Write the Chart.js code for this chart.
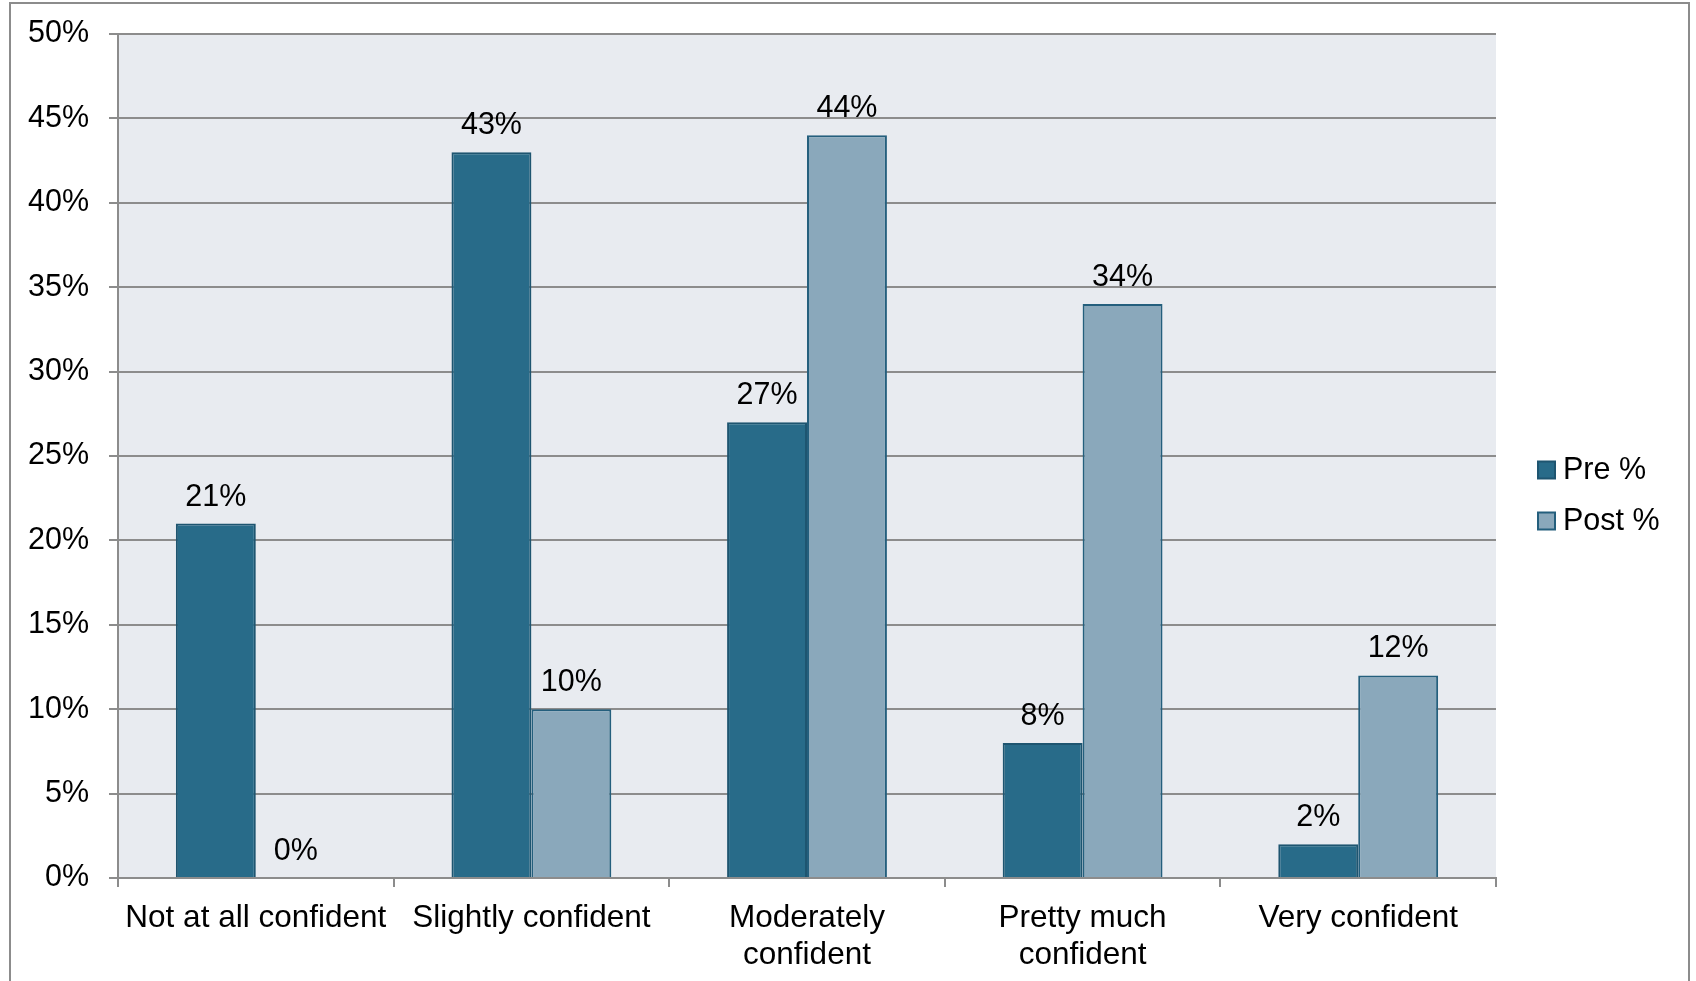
<!DOCTYPE html>
<html>
<head>
<meta charset="utf-8">
<script src="https://cdn.jsdelivr.net/npm/chart.js@4.4.1/dist/chart.umd.min.js"></script>
<style>
  html,body{margin:0;padding:0;background:#fff;}
  #wrap{width:1696px;height:981px;}
</style>
</head>
<body>
<div id="wrap"><canvas id="chart" width="1696" height="981"></canvas></div>
<script>
// confidence survey, pre vs post (percent of respondents)
const categories = [
  'Not at all confident',
  'Slightly confident',
  ['Moderately', 'confident'],
  ['Pretty much', 'confident'],
  'Very confident'
];
const preValues  = [21, 43, 27, 8, 2];
const postValues = [0, 10, 44, 34, 12];
const yTicks = { min: 0, max: 50, step: 5 };

const FONT = '"Liberation Sans", Arial, sans-serif';
const GRID = '#8c8c8c';

// plot background + outer frame
const framePlugin = {
  id: 'frame',
  beforeDraw(chart) {
    const { ctx, chartArea: a } = chart;
    ctx.save();
    ctx.fillStyle = '#e8ebf0';
    ctx.fillRect(a.left, a.top, a.right - a.left, a.bottom - a.top);
    ctx.strokeStyle = GRID;
    ctx.lineWidth = 2;
    ctx.beginPath();
    ctx.moveTo(10, chart.height + 5);
    ctx.lineTo(10, 3);
    ctx.lineTo(1689, 3);
    ctx.lineTo(1689, chart.height + 5);
    ctx.stroke();
    ctx.restore();
  }
};

// value labels above each bar
const valueLabels = {
  id: 'valueLabels',
  afterDatasetsDraw(chart) {
    const ctx = chart.ctx;
    ctx.save();
    ctx.font = '30.5px ' + FONT;
    ctx.fillStyle = '#000';
    ctx.textAlign = 'center';
    ctx.textBaseline = 'alphabetic';
    chart.data.datasets.forEach((ds, di) => {
      chart.getDatasetMeta(di).data.forEach((bar, i) => {
        ctx.fillText(ds.data[i] + '%', bar.x, bar.y - 18);
      });
    });
    ctx.restore();
  }
};

// legend on the right
const sideLegend = {
  id: 'sideLegend',
  afterDraw(chart) {
    const ctx = chart.ctx, a = chart.chartArea;
    const x = a.right + 42;
    const cy = chart.height / 2 + 5;
    const gap = 51;
    ctx.save();
    ctx.font = '30.5px ' + FONT;
    ctx.textBaseline = 'middle';
    chart.data.datasets.forEach((ds, i) => {
      const y = cy + (i - (chart.data.datasets.length - 1) / 2) * gap;
      ctx.fillStyle = ds.backgroundColor;
      ctx.fillRect(x, y - 8.5, 17, 17);
      ctx.strokeStyle = ds.borderColor;
      ctx.lineWidth = 2;
      ctx.strokeRect(x, y - 8.5, 17, 17);
      ctx.fillStyle = '#000';
      ctx.fillText(ds.label, x + 25, y + 1);
    });
    ctx.restore();
  }
};

new Chart(document.getElementById('chart'), {
  type: 'bar',
  plugins: [framePlugin, valueLabels, sideLegend],
  data: {
    labels: categories,
    datasets: [
      { label: 'Pre %',  data: preValues,  backgroundColor: '#286b89', borderColor: '#1e5570', borderWidth: 2 },
      { label: 'Post %', data: postValues, backgroundColor: '#8aa8bb', borderColor: '#245f7d', borderWidth: 2 }
    ]
  },
  options: {
    responsive: false,
    animation: false,
    categoryPercentage: 0.58,
    barPercentage: 1.0,
    layout: { padding: { left: 10, top: 34, right: 200, bottom: 0 } },
    plugins: { legend: { display: false }, tooltip: { enabled: false } },
    scales: {
      x: {
        offset: true,
        grid: { offset: true, drawOnChartArea: false, color: GRID, lineWidth: 2, tickLength: 9 },
        border: { color: GRID, width: 2 },
        ticks: { color: '#000', font: { family: FONT, size: 31.5, lineHeight: 1.17 }, padding: 13, maxRotation: 0, autoSkip: false },
        afterFit(scale) { scale.height = 103; scale.paddingLeft = 0; scale.paddingRight = 0; }
      },
      y: {
        min: yTicks.min,
        max: yTicks.max,
        grid: { color: GRID, lineWidth: 2, tickLength: 9 },
        border: { color: GRID, width: 2 },
        ticks: { stepSize: yTicks.step, color: '#000', font: { family: FONT, size: 30.5 }, padding: 20, callback: v => v + '%' },
        afterFit(scale) { scale.width = 108; scale.paddingTop = 0; scale.paddingBottom = 0; }
      }
    }
  }
});
</script>
</body>
</html>
